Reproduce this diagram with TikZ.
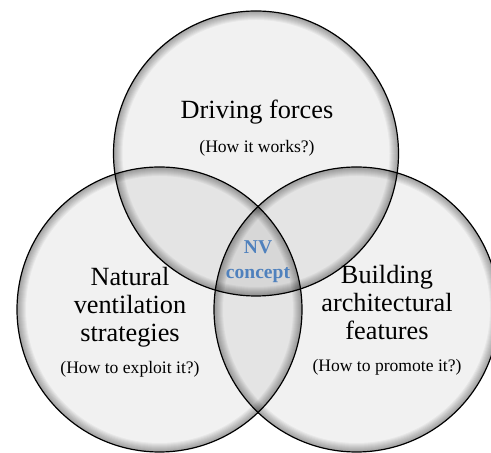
\documentclass[tikz,border=0pt]{standalone}
\usepackage{fontspec}
\setmainfont{Liberation Serif}
\usepackage{xcolor}
\definecolor{nvblue}{RGB}{79,129,189}
\begin{document}
\begin{tikzpicture}[
  disc/.style={fill=black, fill opacity=0.055},
  rim/.style={draw=black, draw opacity=0.045},
  edge/.style={draw=black, line width=0.85pt},
  bigtext/.style={font=\fontsize{18.7}{19.9}\selectfont, align=center},
  smalltext/.style={font=\fontsize{12.5}{14}\selectfont},
  nvtext/.style={font=\fontsize{13.9}{17.8}\selectfont\bfseries, text=nvblue, align=center}
]
\useasboundingbox (0,0) rectangle (12.275,11.325);
\coordinate (top) at (6.4,7.4875);
\coordinate (left) at (3.9875,3.5875);
\coordinate (right) at (8.9125,3.5875);
\def\ringr{3.5625}
% discs
\foreach \c in {top,left,right}
  \fill[disc] (\c) circle (\ringr);
% shadow along the inner rim
\foreach \c in {top,left,right}{
  \begin{scope}
    \clip (\c) circle (\ringr);
    \foreach \k in {1,...,9}
      \draw[rim, line width=\k*0.05cm] (\c) circle (\ringr);
  \end{scope}
}
\foreach \c in {top,left,right}
  \draw[edge] (\c) circle (\ringr);
% labels
\node[bigtext] (drive) at (6.425,8.525) {Driving forces};
\node[smalltext] (driveq) at (6.425,7.625) {(How it works?)};
\node[bigtext] (nat) at (3.25,3.65) {Natural\\ventilation\\strategies};
\node[smalltext] (natq) at (3.25,2.1) {(How to exploit it?)};
\node[bigtext] (build) at (9.675,3.7625) {Building\\architectural\\features};
\node[smalltext] (buildq) at (9.675,2.15) {(How to promote it?)};
\node[nvtext] (nv) at (6.45,4.7875) {NV\\concept};
\end{tikzpicture}
\end{document}
